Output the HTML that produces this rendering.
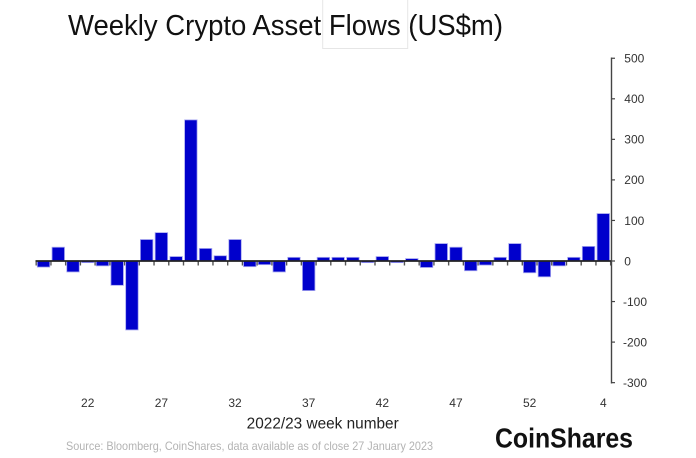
<!DOCTYPE html>
<html>
<head>
<meta charset="utf-8">
<style>
html,body{margin:0;padding:0;background:#fff;}
svg{display:block;}
</style>
</head>
<body>
<svg width="696" height="458" viewBox="0 0 696 458" xmlns="http://www.w3.org/2000/svg" font-family="Liberation Sans, Arial, sans-serif">
<rect width="696" height="458" fill="#fff"/>
<!-- faint box around Flows -->
<rect x="322.7" y="-2" width="85" height="50.5" fill="none" stroke="#e6e6e6" stroke-width="1"/>
<text x="68" y="35" font-size="29" fill="#111" textLength="435" lengthAdjust="spacingAndGlyphs">Weekly Crypto Asset Flows (US$m)</text>

<g id="xticks" stroke="#555" stroke-width="1.4"></g>
<g id="bars" fill="#0000cc" stroke="#a8a8f0" stroke-width="0.8"></g>
<line x1="35.5" y1="261" x2="611.5" y2="261" stroke="#222" stroke-width="1.8"/>

<!-- y axis -->
<line x1="611.5" y1="57.5" x2="611.5" y2="383.5" stroke="#444" stroke-width="1.4"/>
<g id="yaxis" font-size="12" fill="#333"></g>

<g font-size="12" fill="#333" text-anchor="middle" id="xlabels"></g>

<text x="246.7" y="428.5" font-size="15.3" fill="#222" textLength="152" lengthAdjust="spacingAndGlyphs">2022/23 week number</text>
<text x="66" y="450" font-size="12" fill="#b3b3b3" textLength="367" lengthAdjust="spacingAndGlyphs">Source: Bloomberg, CoinShares, data available as of close 27 January 2023</text>
<text x="495" y="447.5" font-size="27.5" font-weight="bold" fill="#111" textLength="138" lengthAdjust="spacingAndGlyphs">CoinShares</text>
</svg>
<script>
(function(){
var NS="http://www.w3.org/2000/svg";
var vals=[-15,34,-27,-4,-12,-60,-170,53,70,11,348,31,13,53,-14,-9,-27,9,-73,9,9,9,-4,11,-4,6,-16,43,34,-24,-10,9,43,-29,-39,-12,9,36,117];
var zero=261, sc=0.4055, x0=37.3, step=14.73, w=12.5;
var bars=document.getElementById('bars');
var ticks=document.getElementById('xticks');
for(var k=0;k<=vals.length;k++){
  var tx=x0-1.1+k*step;
  var l=document.createElementNS(NS,'line');
  l.setAttribute('x1',tx);l.setAttribute('x2',tx);
  l.setAttribute('y1',261);l.setAttribute('y2',265.5);
  ticks.appendChild(l);
}
for(var i=0;i<vals.length;i++){
  var v=vals[i];var h=Math.abs(v)*sc;
  var r=document.createElementNS(NS,'rect');
  r.setAttribute('x',x0+i*step);
  r.setAttribute('width',w);
  r.setAttribute('y',v>=0?zero-h:zero);
  r.setAttribute('height',h);
  bars.appendChild(r);
}
var ya=document.getElementById('yaxis');
for(var t=-300;t<=500;t+=100){
  var y=zero-t*sc;
  var tl=document.createElementNS(NS,'line');
  tl.setAttribute('x1',611.5);tl.setAttribute('x2',615);
  tl.setAttribute('y1',y);tl.setAttribute('y2',y);
  tl.setAttribute('stroke','#444');tl.setAttribute('stroke-width','1.2');
  ya.appendChild(tl);
  var tx2=document.createElementNS(NS,'text');
  tx2.setAttribute('x',t<0?623:624.3);
  tx2.setAttribute('y',y+4.3);
  tx2.textContent=String(t);
  ya.appendChild(tx2);
}
var xl=document.getElementById('xlabels');
var labs=['22','27','32','37','42','47','52','4'];
for(var j=0;j<labs.length;j++){
  var bi=3+5*j;
  var cx=x0+bi*step+w/2;
  var te=document.createElementNS(NS,'text');
  te.setAttribute('x',cx);te.setAttribute('y',406.8);
  te.textContent=labs[j];
  xl.appendChild(te);
}
})();
</script>
</body>
</html>
